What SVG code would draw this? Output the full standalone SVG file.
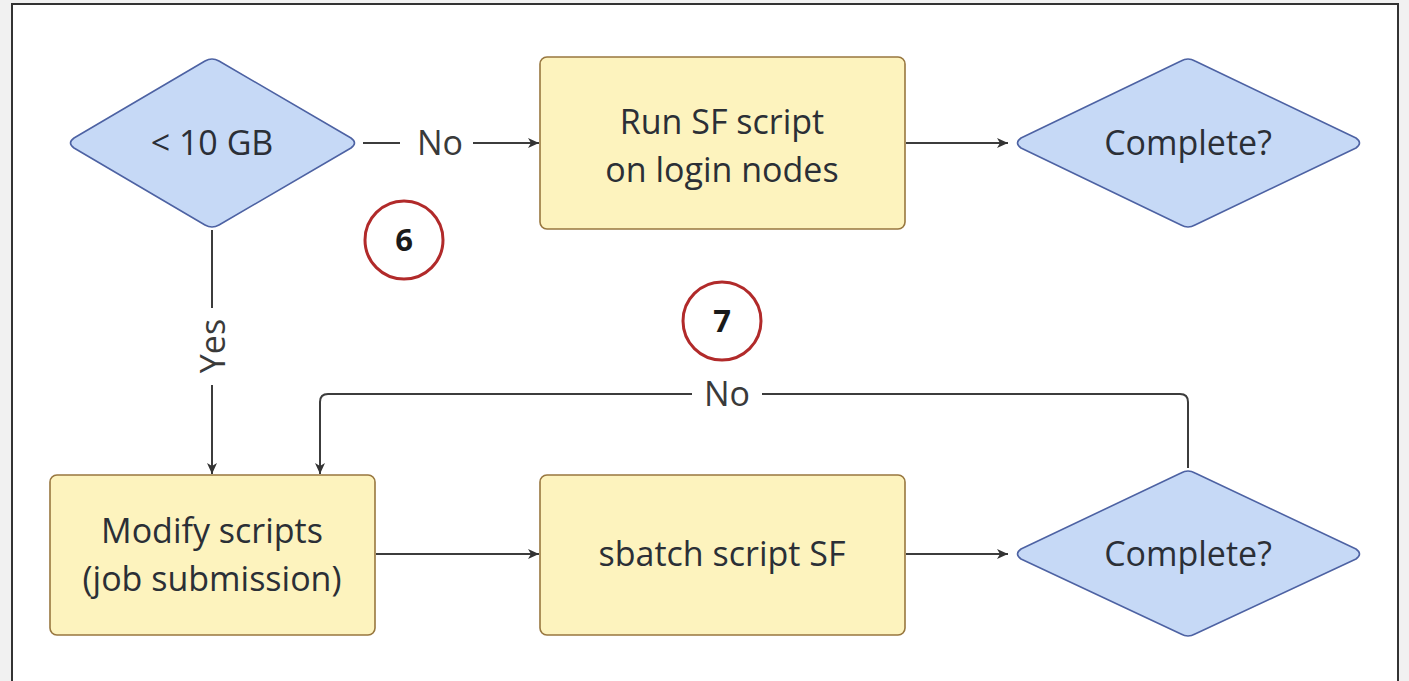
<svg xmlns="http://www.w3.org/2000/svg" width="1409" height="681" viewBox="0 0 1409 681">
<style>
.dia{fill:#c6d9f6;stroke:#4d62a3;stroke-width:1.6;stroke-linejoin:round}
.box{fill:#fdf3be;stroke:#98773f;stroke-width:1.6}
.t{font-family:"Open Sans","Liberation Sans",sans-serif;font-size:34px;fill:#2b2f36;text-anchor:middle}
.lbl{font-family:"Open Sans","Liberation Sans",sans-serif;font-size:34px;fill:#3a3a3a;text-anchor:middle}
.c{fill:none;stroke:#3c3c3c;stroke-width:2}
.badge{fill:#fff;stroke:#b12a2a;stroke-width:3}
.num{font-family:"Open Sans","Liberation Sans",sans-serif;font-size:31px;font-weight:bold;fill:#1a1a1a;text-anchor:middle}
</style>
<defs>
<marker id="ah" markerWidth="14" markerHeight="14" refX="12" refY="7" orient="auto" markerUnits="userSpaceOnUse">
<path d="M1,2 L12,7 L1,12 L4,7 Z" fill="#333"/>
</marker>
</defs>
<rect x="0" y="0" width="1409" height="681" fill="#f1f1f1"/>
<rect x="12" y="4" width="1386" height="690" fill="#ffffff" stroke="#333" stroke-width="2"/>
<g id="connectors">
<line class="c" x1="363" y1="143" x2="400" y2="143"/>
<line class="c" x1="473" y1="143" x2="539" y2="143" marker-end="url(#ah)"/>
<text class="lbl" x="440" y="155">No</text>
<line class="c" x1="906" y1="143" x2="1008" y2="143" marker-end="url(#ah)"/>
<line class="c" x1="212" y1="230" x2="212" y2="308"/>
<line class="c" x1="212" y1="385" x2="212" y2="474" marker-end="url(#ah)"/>
<text class="lbl" x="0" y="0" transform="translate(225,346) rotate(-90)">Yes</text>
<line class="c" x1="376" y1="554" x2="539" y2="554" marker-end="url(#ah)"/>
<line class="c" x1="906" y1="554" x2="1008" y2="554" marker-end="url(#ah)"/>
<path class="c" d="M1188,468 V402 Q1188,394 1180,394 H762"/>
<path class="c" d="M692,394 H328 Q320,394 320,402 V474" marker-end="url(#ah)"/>
<text class="lbl" x="727" y="406">No</text>
</g>
<g id="n1">
<path class="dia" d="M205,61 Q212,57 219,61 L351,138 Q358,143 351,148 L219,225 Q212,229 205,225 L74,148 Q67,143 74,138 Z"/>
<text class="t" x="212" y="155">&lt; 10 GB</text>
</g>
<g id="n2">
<rect class="box" x="540" y="57" width="365" height="172" rx="7"/>
<text class="t" x="722" y="134">Run SF script</text>
<text class="t" x="722" y="182">on login nodes</text>
</g>
<g id="n3">
<path class="dia" d="M1181,61 Q1188,57 1195,61 L1356,138 Q1363,143 1356,148 L1195,225 Q1188,229 1181,225 L1021,148 Q1014,143 1021,138 Z"/>
<text class="t" x="1188" y="155">Complete?</text>
</g>
<g id="n4">
<rect class="box" x="50" y="475" width="325" height="160" rx="7"/>
<text class="t" x="212" y="543">Modify scripts</text>
<text class="t" x="212" y="591">(job submission)</text>
</g>
<g id="n5">
<rect class="box" x="540" y="475" width="365" height="160" rx="7"/>
<text class="t" x="722" y="566">sbatch script SF</text>
</g>
<g id="n6">
<path class="dia" d="M1181,473 Q1188,469 1195,473 L1356,549 Q1363,554 1356,559 L1195,634 Q1188,638 1181,634 L1021,559 Q1014,554 1021,549 Z"/>
<text class="t" x="1188" y="566">Complete?</text>
</g>
<g id="badge6">
<circle class="badge" cx="404" cy="240" r="39"/>
<text class="num" x="404" y="251">6</text>
</g>
<g id="badge7">
<circle class="badge" cx="722" cy="321" r="39"/>
<text class="num" x="722" y="332">7</text>
</g>
</svg>
